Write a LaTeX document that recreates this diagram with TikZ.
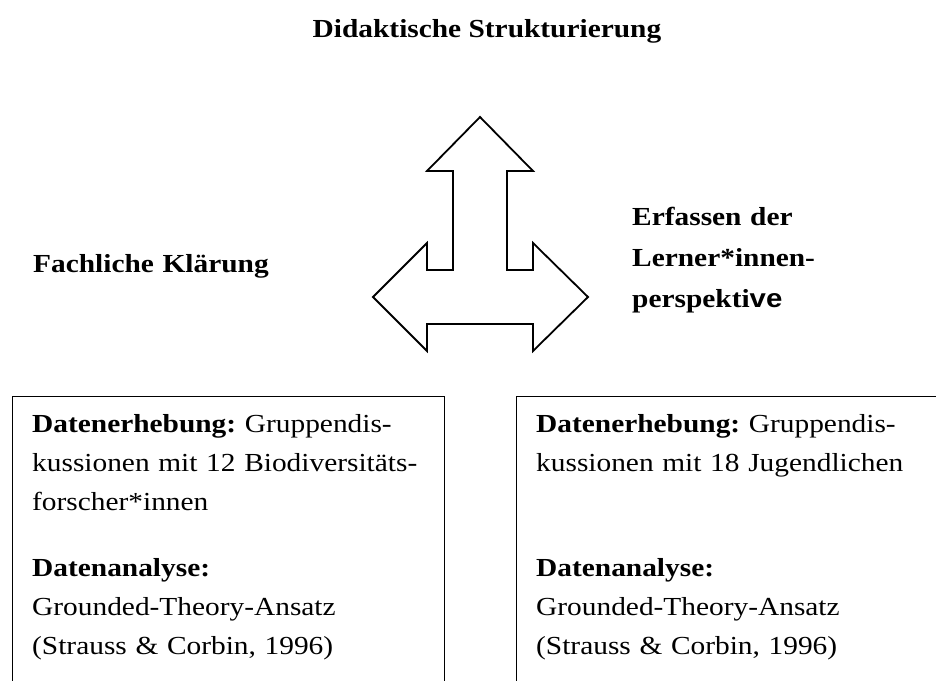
\documentclass[tikz,border=0pt]{standalone}
\usepackage{fontspec}
\setmainfont[FakeStretch=1.13]{Liberation Serif}
\newfontfamily\sanspart[FakeStretch=1.13]{Liberation Sans}
\usetikzlibrary{positioning}
\frenchspacing

\begin{document}
\begin{tikzpicture}[x=1pt, y=-1pt,
    heading/.style={font=\fontsize{26}{41}\selectfont\bfseries, inner sep=0pt,
                    anchor=base west, text width=300pt, align=left},
    infobox/.style={draw, line width=1.4pt, anchor=north west, inner sep=0pt,
                    minimum height=330pt},
    boxtext/.style={font=\fontsize{26}{39}\selectfont, inner sep=0pt,
                    anchor=base west, text width=400pt, align=left},
    bigarrow/.style={draw, line width=1.8pt, line join=miter}
]
    \useasboundingbox (0,0) rectangle (936,680);
    \clip (0,0) rectangle (936,680);

    % headings
    \node[heading, anchor=base, text width=, align=center] (title) at (487,37) {Didaktische Strukturierung};
    \node[heading] (fach) at (33,272) {Fachliche Klärung};
    \node[heading] (lerner) at (632,225) {Erfassen der\\Lerner*innen-\\perspekti{\sanspart ve}};

    % three-headed arrow
    \path[bigarrow] (480,117) -- (533,171) -- (507,171) -- (507,270) -- (533,270)
        -- (533,243) -- (588,297) -- (533,351) -- (533,324) -- (427,324)
        -- (427,351) -- (373,297) -- (427,243) -- (427,270) -- (453,270)
        -- (453,171) -- (427,171) -- cycle;

    % boxes
    \node[infobox, minimum width=432pt] (boxL) at (11.5,395.5) {};
    \node[infobox, minimum width=460pt] (boxR) at (515.5,395.5) {};

    \node[boxtext] (textL) at (32,432)
        {\textbf{Datenerhebung:} Gruppendis-\\kussionen mit 12 Biodiversitäts-\\forscher*innen\\[27pt]
         \textbf{Datenanalyse:}\\Grounded-Theory-Ansatz\\(Strauss \& Corbin, 1996)};
    \node[boxtext] (textR) at (536,432)
        {\textbf{Datenerhebung:} Gruppendis-\\kussionen mit 18 Jugendlichen\\[66pt]
         \textbf{Datenanalyse:}\\Grounded-Theory-Ansatz\\(Strauss \& Corbin, 1996)};
\end{tikzpicture}
\end{document}
